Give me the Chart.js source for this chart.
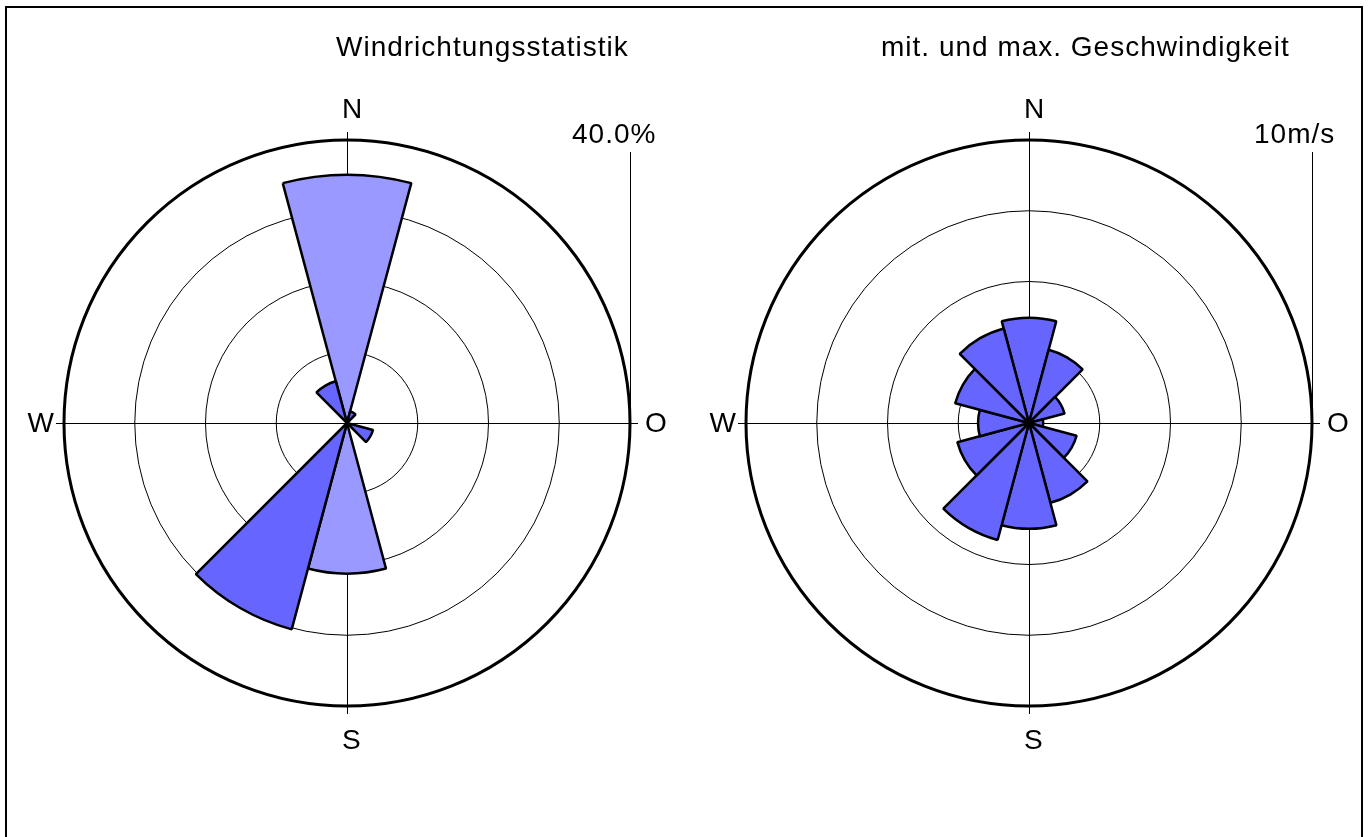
<!DOCTYPE html>
<html>
<head>
<meta charset="utf-8">
<script src="https://cdn.jsdelivr.net/npm/chart.js@4.4.1/dist/chart.umd.min.js"></script>
<style>
  html, body { margin: 0; padding: 0; background: #fff; overflow: hidden; }
  #frame { position: absolute; left: 5px; top: 6px; width: 1354px; height: 900px; border: 2px solid #000; }
  canvas { position: absolute; top: 0; }
</style>
</head>
<body>
<div id="frame"></div>
<canvas id="dirChart" width="688" height="837" style="left:0"></canvas>
<canvas id="speedChart" width="681" height="837" style="left:688px"></canvas>
<script>
// 12 Sektoren a 30 Grad, beginnend bei Nord
var sectors = ['N', '30°', '60°', 'O', '120°', '150°', 'S', '210°', '240°', 'W', '300°', '330°'];

// Haeufigkeit je Richtung in %
var frequency = [35.1, 1.7, 0, 0, 3.8, 0, 21.3, 30.2, 0, 0, 0, 6.1];
// mittlere Geschwindigkeit je Richtung in m/s
var meanSpeed = [3.72, 2.68, 1.3, 0.5, 1.74, 2.92, 3.74, 4.28, 2.62, 1.8, 2.7, 3.46];

var freqTicks = [0, 10, 20, 30, 40];
var speedTicks = [0, 2.5, 5, 7.5, 10];

var light = '#9999ff', dark = '#6666ff';
var freqColors = [light, dark, dark, dark, dark, dark, light, dark, dark, dark, dark, dark];

var FONT = '28px "Liberation Sans", Arial, sans-serif';

// Achsenkreuz, Skalenstrich und Beschriftung
var roseDeco = {
  id: 'roseDeco',
  beforeDatasetsDraw: function(chart, args, o) {
    var s = chart.scales.r, ctx = chart.ctx;
    var cx = s.xCenter, cy = s.yCenter, r = s.drawingArea;
    ctx.save();
    ctx.strokeStyle = '#000';
    ctx.lineWidth = 1;
    ctx.beginPath();
    ctx.moveTo(cx - r - 8, cy + 0.5); ctx.lineTo(cx + r + 8, cy + 0.5);
    ctx.moveTo(cx + 0.5, cy - r - 8); ctx.lineTo(cx + 0.5, cy + r + 8);
    ctx.moveTo(cx + r + 0.5, cy - r + 12); ctx.lineTo(cx + r + 0.5, cy);
    ctx.stroke();
    ctx.restore();
  },
  afterDraw: function(chart, args, o) {
    var s = chart.scales.r, ctx = chart.ctx;
    var cx = s.xCenter, cy = s.yCenter, r = s.drawingArea;
    ctx.save();
    ctx.fillStyle = '#000';
    ctx.font = FONT;
    ctx.textBaseline = 'alphabetic';

    ctx.textAlign = 'left';
    ctx.fillText('N', cx - 5, cy - r - 22);
    ctx.fillText('S', cx - 5, cy + r + 43);
    ctx.fillText('O', cx + r + 15, cy + 9);
    ctx.textAlign = 'right';
    ctx.fillText('W', cx - r - 10, cy + 9);

    ctx.textAlign = 'left';
    ctx.letterSpacing = '1px';
    ctx.fillText(o.title, o.titleX, 56);
    ctx.fillText(o.scaleLabel, cx + r - 58, 143);
    ctx.restore();
  }
};

function roseOptions(ticks, pad, deco) {
  var max = ticks[ticks.length - 1];
  return {
    responsive: false,
    devicePixelRatio: 1,
    animation: false,
    layout: { padding: pad },
    scales: {
      r: {
        min: 0,
        max: max,
        startAngle: -15,
        angleLines: { display: false },
        pointLabels: { display: false },
        ticks: { display: false, stepSize: ticks[1] },
        grid: {
          circular: true,
          color: '#000',
          lineWidth: function(c) { return c.tick && c.tick.value === max ? 3 : 1; }
        }
      }
    },
    plugins: {
      legend: { display: false },
      tooltip: { enabled: false },
      roseDeco: deco
    }
  };
}

new Chart(document.getElementById('dirChart'), {
  type: 'polarArea',
  data: {
    labels: sectors,
    datasets: [{
      data: frequency,
      backgroundColor: freqColors,
      borderColor: '#000',
      borderWidth: 2.5
    }]
  },
  options: roseOptions(freqTicks, { left: 64, top: 140, right: 58, bottom: 131 },
    { title: 'Windrichtungsstatistik', titleX: 336, scaleLabel: '40.0%' }),
  plugins: [roseDeco]
});

new Chart(document.getElementById('speedChart'), {
  type: 'polarArea',
  data: {
    labels: sectors,
    datasets: [{
      data: meanSpeed,
      backgroundColor: dark,
      borderColor: '#000',
      borderWidth: 2.5
    }]
  },
  options: roseOptions(speedTicks, { left: 58, top: 140, right: 57, bottom: 131 },
    { title: 'mit. und max. Geschwindigkeit', titleX: 193, scaleLabel: '10m/s' }),
  plugins: [roseDeco]
});
</script>
</body>
</html>
